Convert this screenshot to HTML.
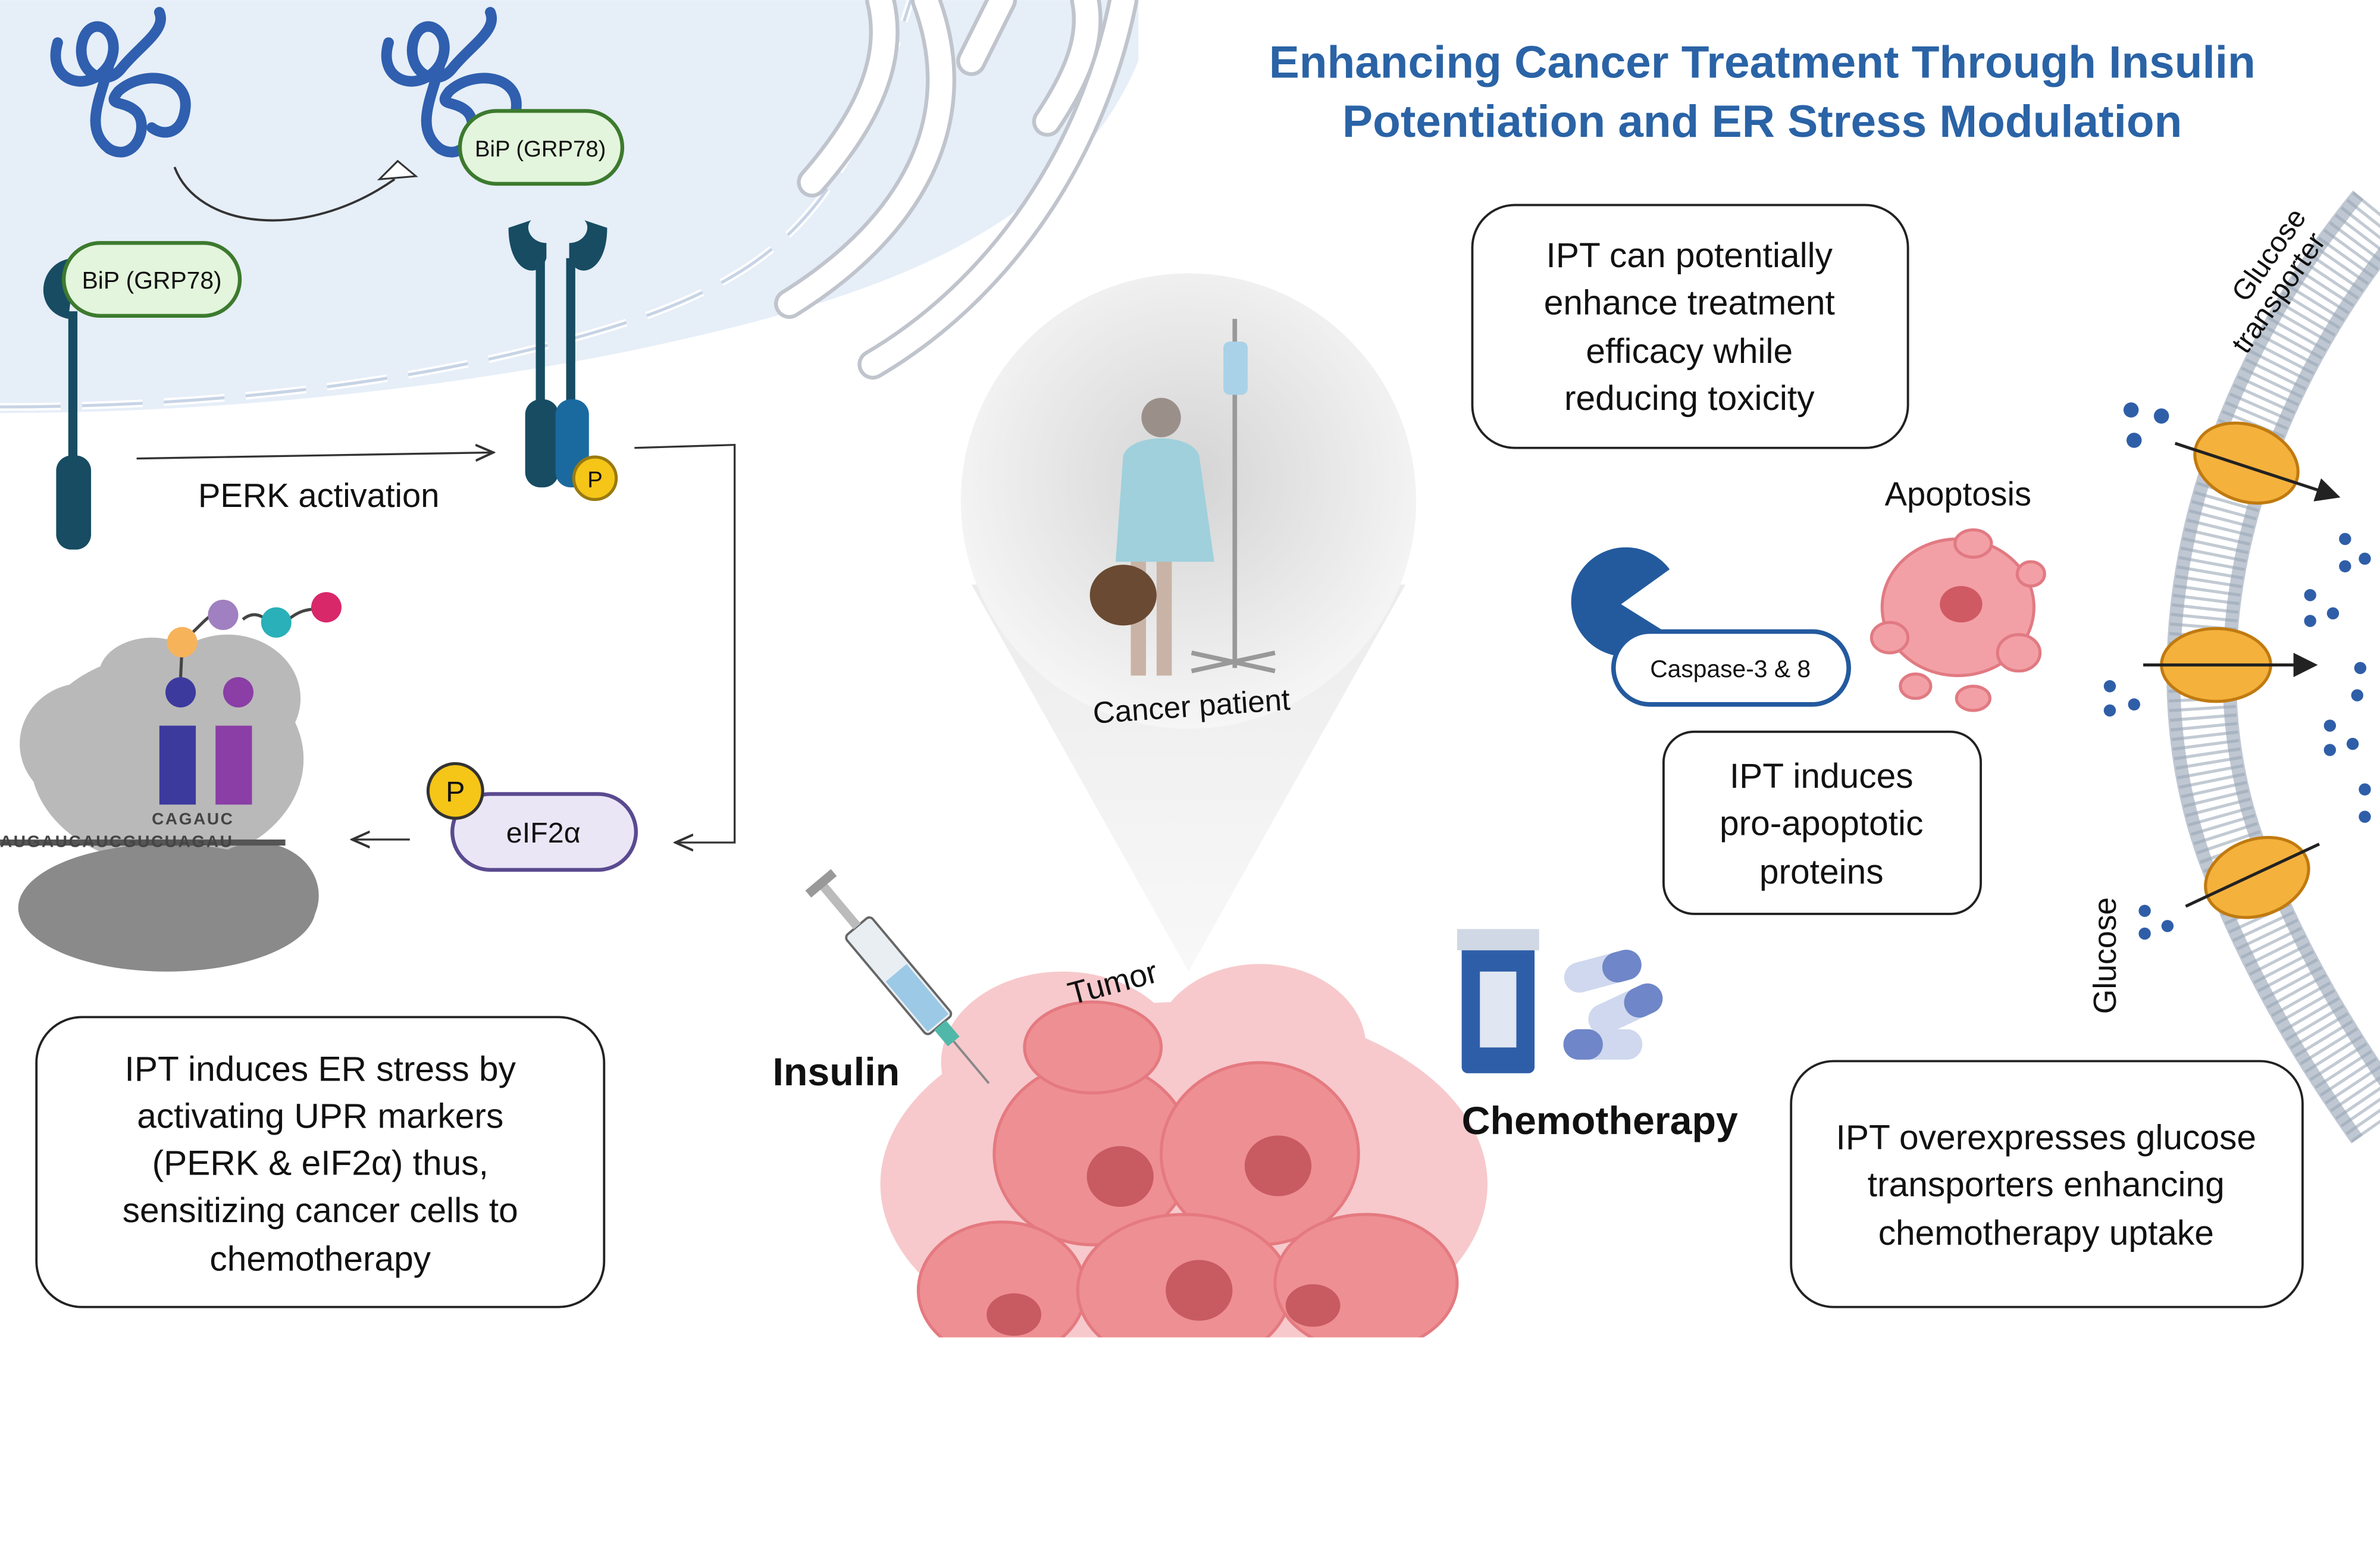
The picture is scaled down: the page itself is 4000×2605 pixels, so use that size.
<!DOCTYPE html>
<html><head><meta charset="utf-8"><style>
html,body{margin:0;padding:0;background:#fff;}
svg{display:block;}
text{font-family:"Liberation Sans","DejaVu Sans",sans-serif;}
</style></head><body>
<svg width="4000" height="2605" viewBox="0 0 1568 1021" xmlns="http://www.w3.org/2000/svg">
<defs>
<radialGradient id="pg" cx="0.5" cy="0.45" r="0.55"><stop offset="0" stop-color="#d4d4d4"/><stop offset="1" stop-color="#f6f6f6"/></radialGradient>
<linearGradient id="cone" x1="0" y1="0" x2="0" y2="1"><stop offset="0" stop-color="#ececec"/><stop offset="1" stop-color="#f8f8f8"/></linearGradient>
<marker id="ar" markerWidth="10" markerHeight="10" refX="9" refY="5" orient="auto"><path d="M0,1 L9,5 L0,9" fill="none" stroke="#333" stroke-width="1.2"/></marker>
<marker id="af" markerWidth="8" markerHeight="8" refX="7" refY="4" orient="auto"><path d="M0,0 L8,4 L0,8z" fill="#222"/></marker>
</defs>
<rect width="1568" height="1021" fill="#fff"/>

<!-- ER lumen region -->
<path d="M0,0 L750,0 L750,40 C700,160 560,200 420,230 C300,255 150,272 0,272 Z" fill="#e6eef8"/>
<path d="M0,268 C150,268 300,250 420,210 C520,175 560,130 600,0" fill="none" stroke="#fff" stroke-width="5" stroke-dasharray="40,14"/>
<path d="M0,268 C150,268 300,250 420,210 C520,175 560,130 600,0" fill="none" stroke="#c7d4e6" stroke-width="2" stroke-dasharray="40,14"/>
<!-- ER cisternae -->
<g fill="none" stroke="#c0c4cc" stroke-width="20" stroke-linecap="round">
<path d="M520,200 C600,150 640,80 610,0"/>
<path d="M575,240 C660,190 720,100 740,0"/>
<path d="M535,120 C570,80 590,40 580,0"/>
<path d="M640,40 L660,0"/>
<path d="M690,80 C710,50 720,25 715,0"/>
</g>
<g fill="none" stroke="#fff" stroke-width="15" stroke-linecap="round">
<path d="M520,200 C600,150 640,80 610,0"/>
<path d="M575,240 C660,190 720,100 740,0"/>
<path d="M535,120 C570,80 590,40 580,0"/>
<path d="M640,40 L660,0"/>
<path d="M690,80 C710,50 720,25 715,0"/>
</g>

<!-- unfolded proteins -->
<g fill="none" stroke="#2f5fae" stroke-width="7" stroke-linecap="round">
<path d="M38,28 C30,55 60,62 72,42 C82,22 62,8 55,25 C48,45 68,60 80,45 C92,30 110,20 105,8 M72,42 C66,65 55,85 72,98 C90,108 100,80 88,72 C80,66 70,70 78,60 C95,45 125,50 122,72 C120,88 108,90 100,84"/>
<path d="M256,28 C248,55 278,62 290,42 C300,22 280,8 273,25 C266,45 286,60 298,45 C310,30 328,20 323,8 M290,42 C284,65 273,85 290,98 C308,108 318,80 306,72 C298,66 288,70 296,60 C313,45 343,50 340,72"/>
</g>
<path d="M115,110 C130,150 200,160 260,118" fill="none" stroke="#333" stroke-width="1.5"/>
<path d="M250,118 L262,106 L274,116 Z" fill="#fff" stroke="#333" stroke-width="1.2"/>

<!-- BiP pills -->
<rect x="303" y="73" width="107" height="48" rx="24" fill="#e3f5dc" stroke="#3c7a2e" stroke-width="2.5"/>
<text x="356" y="103" font-size="15" text-anchor="middle" fill="#111">BiP (GRP78)</text>
<path d="M50,170 C25,170 20,205 45,210" fill="#174c63"/>
<rect x="42" y="160" width="116" height="48" rx="24" fill="#e3f5dc" stroke="#3c7a2e" stroke-width="2.5"/>
<text x="100" y="190" font-size="16" text-anchor="middle" fill="#111">BiP (GRP78)</text>

<!-- PERK monomer -->
<rect x="45" y="205" width="6" height="100" fill="#174c63"/>
<rect x="37" y="300" width="23" height="62" rx="10" fill="#174c63"/>
<!-- PERK dimer -->
<path d="M335,150 C335,180 355,185 360,170 L360,160 C350,160 345,150 350,145 Z" fill="#174c63"/>
<path d="M400,150 C400,180 380,185 375,170 L375,160 C385,160 390,150 385,145 Z" fill="#174c63"/>
<rect x="353" y="170" width="6" height="100" fill="#174c63"/>
<rect x="373" y="170" width="6" height="100" fill="#174c63"/>
<rect x="346" y="263" width="22" height="58" rx="10" fill="#174c63"/>
<rect x="366" y="263" width="22" height="58" rx="10" fill="#1a6aa0"/>
<circle cx="392" cy="315" r="14" fill="#f5c518" stroke="#9a7a10" stroke-width="2"/>
<text x="392" y="321" font-size="15" text-anchor="middle" fill="#111">P</text>

<line x1="90" y1="302" x2="325" y2="298" stroke="#333" stroke-width="1.3" marker-end="url(#ar)"/>
<text x="210" y="334" font-size="22" text-anchor="middle" fill="#111">PERK activation</text>
<polyline points="418,295 484,293 484,555 445,555" fill="none" stroke="#333" stroke-width="1.3" marker-end="url(#ar)"/>

<!-- eIF2a -->
<rect x="298" y="523" width="121" height="50" rx="25" fill="#ebe6f6" stroke="#5a4a90" stroke-width="2.5"/>
<text x="358" y="555" font-size="19" text-anchor="middle" fill="#111">eIF2α</text>
<circle cx="300" cy="521" r="18" fill="#f5c518" stroke="#333" stroke-width="2"/>
<text x="300" y="528" font-size="19" text-anchor="middle" fill="#111">P</text>
<line x1="270" y1="553" x2="232" y2="553" stroke="#333" stroke-width="1.3" marker-end="url(#ar)"/>

<!-- ribosome -->
<g fill="#b9b9b9">
<ellipse cx="110" cy="500" rx="90" ry="70"/>
<ellipse cx="55" cy="490" rx="42" ry="40"/>
<ellipse cx="150" cy="460" rx="48" ry="42"/>
<ellipse cx="100" cy="445" rx="35" ry="25"/>
</g>
<g fill="#8a8a8a">
<ellipse cx="110" cy="598" rx="98" ry="42"/>
<ellipse cx="170" cy="590" rx="40" ry="35"/>
</g>
<rect x="0" y="553" width="188" height="4" fill="#555"/>
<text x="0" y="558" font-size="11" fill="#444" letter-spacing="1" font-weight="bold">AUGAUCAUCGUCUAGAU</text>
<text x="100" y="543" font-size="11" fill="#444" letter-spacing="1" font-weight="bold">CAGAUC</text>
<rect x="105" y="478" width="24" height="52" fill="#3d3a9e"/>
<rect x="142" y="478" width="24" height="52" fill="#8a3ea6"/>
<circle cx="119" cy="456" r="10" fill="#3d3a9e"/>
<circle cx="157" cy="456" r="10" fill="#8a3ea6"/>
<path d="M119,446 L120,425 M120,423 C135,410 140,400 148,405 M160,408 C170,400 175,410 182,410 M190,408 C200,400 205,402 215,400" stroke="#444" stroke-width="2" fill="none"/>
<circle cx="120" cy="423" r="10" fill="#f7b35a"/>
<circle cx="147" cy="405" r="10" fill="#a080c0"/>
<circle cx="182" cy="410" r="10" fill="#29b0b8"/>
<circle cx="215" cy="400" r="10" fill="#d8286a"/>

<!-- Box 4 -->
<rect x="24" y="670" width="374" height="191" rx="30" fill="#fff" stroke="#222" stroke-width="1.5"/>
<g font-size="23" text-anchor="middle" fill="#111">
<text x="211" y="712">IPT induces ER stress by</text>
<text x="211" y="743">activating UPR markers</text>
<text x="211" y="774">(PERK &amp; eIF2α) thus,</text>
<text x="211" y="805">sensitizing cancer cells to</text>
<text x="211" y="837">chemotherapy</text>
</g>

<!-- Title -->
<g font-size="30" font-weight="bold" fill="#2a63a6" text-anchor="middle">
<text x="1161" y="51">Enhancing Cancer Treatment Through Insulin</text>
<text x="1161" y="90">Potentiation and ER Stress Modulation</text>
</g>

<!-- patient bubble -->
<path d="M640,385 L783,640 L926,385 Z" fill="url(#cone)"/>
<circle cx="783" cy="330" r="150" fill="url(#pg)"/>
<rect x="812" y="210" width="3" height="230" fill="#999"/>
<rect x="806" y="225" width="16" height="35" rx="4" fill="#a9d2e8"/>
<path d="M785,442 L840,430 M785,430 L840,442" stroke="#999" stroke-width="3"/>
<circle cx="765" cy="275" r="13" fill="#9b8f8a"/>
<path d="M740,300 C745,285 785,285 790,300 L800,370 L735,370 Z" fill="#9fd0dc"/>
<rect x="745" y="370" width="10" height="75" fill="#c9b3a6"/>
<rect x="762" y="370" width="10" height="75" fill="#c9b3a6"/>
<ellipse cx="740" cy="392" rx="22" ry="20" fill="#6a4a32"/>
<text x="785" y="472" font-size="20" text-anchor="middle" fill="#111" transform="rotate(-4 785 466)">Cancer patient</text>

<!-- tumor -->
<g fill="#f7c9cc">
<ellipse cx="780" cy="780" rx="200" ry="120"/>
<ellipse cx="700" cy="700" rx="80" ry="60"/>
<ellipse cx="830" cy="690" rx="70" ry="55"/>
</g>
<g fill="#ee8f93" stroke="#e47a80" stroke-width="2">
<ellipse cx="720" cy="760" rx="65" ry="60"/>
<ellipse cx="830" cy="760" rx="65" ry="60"/>
<ellipse cx="660" cy="850" rx="55" ry="45"/>
<ellipse cx="780" cy="850" rx="70" ry="50"/>
<ellipse cx="900" cy="845" rx="60" ry="45"/>
<ellipse cx="720" cy="690" rx="45" ry="30"/>
</g>
<g fill="#c85a62">
<ellipse cx="738" cy="775" rx="22" ry="20"/>
<ellipse cx="842" cy="768" rx="22" ry="20"/>
<ellipse cx="790" cy="850" rx="22" ry="20"/>
<ellipse cx="668" cy="866" rx="18" ry="14"/>
<ellipse cx="865" cy="860" rx="18" ry="14"/>
</g>
<rect x="560" y="881" width="440" height="140" fill="#fff"/>
<text x="706" y="662" font-size="21" fill="#111" transform="rotate(-15 706 662)">Tumor</text>

<!-- syringe -->
<g transform="rotate(50 580 630)">
<rect x="555" y="618" width="85" height="22" rx="3" fill="#e8eef2" stroke="#666" stroke-width="1.5"/>
<rect x="595" y="620" width="43" height="18" fill="#9cc9e6"/>
<rect x="520" y="626" width="35" height="6" fill="#bbb"/>
<rect x="515" y="618" width="6" height="22" fill="#999"/>
<rect x="640" y="624" width="14" height="10" fill="#50b8a8"/>
<line x1="654" y1="629" x2="690" y2="629" stroke="#888" stroke-width="1.5"/>
</g>
<text x="509" y="715" font-size="26" font-weight="bold" fill="#111">Insulin</text>

<!-- chemo -->
<rect x="963" y="615" width="48" height="92" rx="4" fill="#2f5ea8"/>
<rect x="960" y="612" width="54" height="14" fill="#cfd8e4"/>
<rect x="975" y="640" width="24" height="50" fill="#fff" opacity="0.85"/>
<g transform="rotate(-15 1055 640)"><rect x="1030" y="630" width="52" height="20" rx="10" fill="#cfd8ee"/><rect x="1056" y="630" width="26" height="20" rx="10" fill="#6f86c8"/></g>
<g transform="rotate(-25 1070 665)"><rect x="1045" y="655" width="52" height="20" rx="10" fill="#cfd8ee"/><rect x="1071" y="655" width="26" height="20" rx="10" fill="#6f86c8"/></g>
<rect x="1030" y="678" width="52" height="20" rx="10" fill="#cfd8ee"/><rect x="1030" y="678" width="26" height="20" rx="10" fill="#6f86c8"/>
<text x="963" y="747" font-size="26" font-weight="bold" fill="#111">Chemotherapy</text>

<!-- Box 1 -->
<rect x="970" y="135" width="287" height="160" rx="28" fill="#fff" stroke="#222" stroke-width="1.5"/>
<g font-size="23" text-anchor="middle" fill="#111">
<text x="1113" y="176">IPT can potentially</text>
<text x="1113" y="207">enhance treatment</text>
<text x="1113" y="239">efficacy while</text>
<text x="1113" y="270">reducing toxicity</text>
</g>

<!-- apoptosis -->
<text x="1290" y="333" font-size="22" text-anchor="middle" fill="#111">Apoptosis</text>
<path d="M1100,375 A36,36 0 1 0 1100,418 L1068,398 Z" fill="#235a9e"/>
<rect x="1063" y="416" width="155" height="48" rx="24" fill="#fff" stroke="#235a9e" stroke-width="3"/>
<text x="1140" y="446" font-size="16" text-anchor="middle" fill="#111">Caspase-3 &amp; 8</text>
<g fill="#f2a0a6" stroke="#e17a82" stroke-width="2">
<ellipse cx="1290" cy="400" rx="50" ry="45"/>
<ellipse cx="1245" cy="420" rx="12" ry="10"/>
<ellipse cx="1330" cy="430" rx="14" ry="12"/>
<ellipse cx="1300" cy="358" rx="12" ry="9"/>
<ellipse cx="1300" cy="460" rx="11" ry="8"/>
<ellipse cx="1262" cy="452" rx="10" ry="8"/>
<ellipse cx="1338" cy="378" rx="9" ry="8"/>
</g>
<ellipse cx="1292" cy="398" rx="14" ry="12" fill="#d05a64"/>

<!-- Box 2 -->
<rect x="1096" y="482" width="209" height="120" rx="20" fill="#fff" stroke="#222" stroke-width="1.5"/>
<g font-size="23" text-anchor="middle" fill="#111">
<text x="1200" y="519">IPT induces</text>
<text x="1200" y="550">pro-apoptotic</text>
<text x="1200" y="582">proteins</text>
</g>

<!-- membrane -->
<path d="M1568,140 C1470,260 1420,420 1470,560 C1500,640 1540,700 1568,740" fill="none" stroke="#bfc7d2" stroke-width="46"/>
<path d="M1568,140 C1470,260 1420,420 1470,560 C1500,640 1540,700 1568,740" fill="none" stroke="#fff" stroke-width="28"/>
<path d="M1568,140 C1470,260 1420,420 1470,560 C1500,640 1540,700 1568,740" fill="none" stroke="#9aa6b6" stroke-width="44" stroke-dasharray="2,4" opacity="0.6"/>
<g fill="#f4b13c" stroke="#c07a10" stroke-width="2">
<ellipse cx="1480" cy="305" rx="35" ry="25" transform="rotate(20 1480 305)"/>
<ellipse cx="1460" cy="438" rx="36" ry="24"/>
<ellipse cx="1487" cy="578" rx="35" ry="25" transform="rotate(-20 1487 578)"/>
</g>
<line x1="1433" y1="292" x2="1540" y2="327" stroke="#222" stroke-width="2" marker-end="url(#af)"/>
<line x1="1412" y1="438" x2="1525" y2="438" stroke="#222" stroke-width="2" marker-end="url(#af)"/>
<line x1="1440" y1="597" x2="1528" y2="556" stroke="#222" stroke-width="2"/>
<g fill="#2f5ea8">
<circle cx="1404" cy="270" r="5"/><circle cx="1424" cy="274" r="5"/><circle cx="1406" cy="290" r="5"/>
<circle cx="1390" cy="452" r="4"/><circle cx="1406" cy="464" r="4"/><circle cx="1390" cy="468" r="4"/>
<circle cx="1413" cy="600" r="4"/><circle cx="1428" cy="610" r="4"/><circle cx="1413" cy="615" r="4"/>
<circle cx="1545" cy="355" r="4"/><circle cx="1558" cy="368" r="4"/><circle cx="1545" cy="373" r="4"/>
<circle cx="1522" cy="392" r="4"/><circle cx="1537" cy="404" r="4"/><circle cx="1522" cy="409" r="4"/>
<circle cx="1555" cy="440" r="4"/><circle cx="1553" cy="458" r="4"/>
<circle cx="1535" cy="478" r="4"/><circle cx="1550" cy="490" r="4"/><circle cx="1535" cy="494" r="4"/>
<circle cx="1558" cy="520" r="4"/><circle cx="1558" cy="538" r="4"/>
</g>
<text x="1480" y="200" font-size="19" fill="#111" transform="rotate(-55 1480 200)">Glucose</text>
<text x="1480" y="234" font-size="19" fill="#111" transform="rotate(-55 1480 234)">transporter</text>
<text x="1394" y="668" font-size="21" fill="#111" transform="rotate(-90 1394 668)">Glucose</text>

<!-- Box 3 -->
<rect x="1180" y="699" width="337" height="162" rx="28" fill="#fff" stroke="#222" stroke-width="1.5"/>
<g font-size="23" text-anchor="middle" fill="#111">
<text x="1348" y="757">IPT overexpresses glucose</text>
<text x="1348" y="788">transporters enhancing</text>
<text x="1348" y="820">chemotherapy uptake</text>
</g>
</svg>
</body></html>
